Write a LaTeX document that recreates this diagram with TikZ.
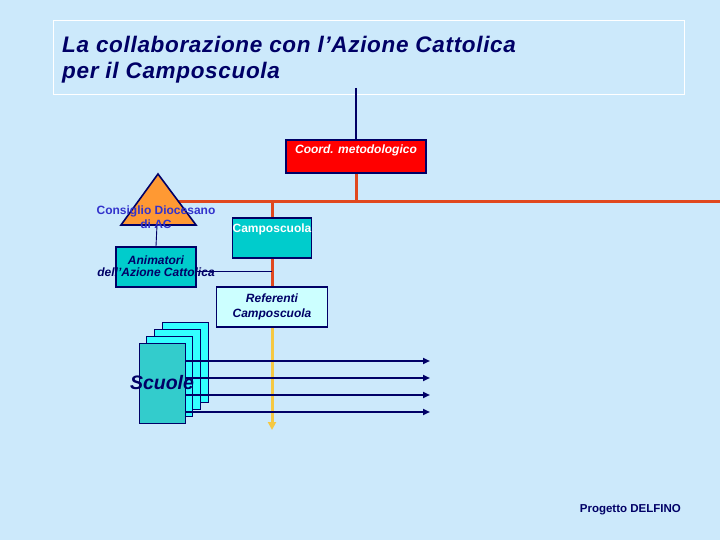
\documentclass[tikz,border=0pt]{standalone}
\usepackage{fontspec}
\setmainfont{Liberation Sans}
\newfontfamily\titlefont[LetterSpace=3]{Liberation Sans}
\usetikzlibrary{calc,arrows.meta}
\definecolor{bgblue}{HTML}{CCE9FB}
\definecolor{navy}{HTML}{000066}
\definecolor{acblue}{HTML}{3333CC}
\definecolor{redline}{HTML}{E0481E}
\definecolor{teal}{HTML}{00CCCC}
\definecolor{paleteal}{HTML}{CCFFFF}
\definecolor{brightcyan}{HTML}{33FFFF}
\definecolor{frontcyan}{HTML}{33CCCC}
\definecolor{gold}{HTML}{F5C842}
\definecolor{tangerine}{HTML}{FF9933}

\tikzset{
  orgbox/.style={draw=navy, line width=1.6pt, inner sep=0pt},
  boxtext/.style={font=\fontsize{12}{13}\selectfont\bfseries\itshape, align=center, inner sep=0pt},
  redlink/.style={draw=redline, line width=3pt},
  thinlink/.style={draw=navy, line width=0.9pt},
  schoolbox/.style={draw=navy, line width=1pt, inner sep=0pt, minimum width=46pt, minimum height=80pt, anchor=north west},
  schoolarrow/.style={draw=navy, line width=2pt, -{Triangle[length=7pt,width=6pt]}}
}

\begin{document}
\begin{tikzpicture}[x=1pt,y=-1pt]
		%%%%% START %%%%%
		\fill[bgblue] (0,0) rectangle (720,540);
		\useasboundingbox (0,0) rectangle (720,540);

		% title
		\draw[white, line width=0.8pt] (53,20) rectangle (684,94);
		\node[anchor=north west, text=navy, align=left, inner sep=0pt,
		      font=\titlefont\fontsize{22.5}{26.5}\selectfont\bfseries\itshape] (title) at (62,35.5)
		      {La collaborazione con l’Azione Cattolica\\per il Camposcuola};

		% coordination
		\coordinate (top) at (356,88);
		\node[orgbox, fill=red, minimum width=140pt, minimum height=33pt] (coord) at (356,156.5) {};
		\node[boxtext, text=white] (coordtxt) at ($(coord.north)+(0,11)$) {Coord. metodologico};
		\draw[navy, line width=2.5pt] (top) -- (coord.north);

		% red tree
		\coordinate (split) at (coord.south |- 0,202);
		\coordinate (rightend) at (720,202);
		\coordinate (leftend) at (170,202);
		\draw[redlink] (coord.south) -- (split);
		\draw[redlink] (leftend) -- (rightend);

		% consiglio diocesano
		\coordinate (apex) at (158,174);
		\coordinate (baseL) at (121,225);
		\coordinate (baseR) at (196,225);
		\draw[navy, line width=1.6pt, fill=tangerine, line join=miter] (apex) -- (baseR) -- (baseL) -- cycle;
		\node[boxtext, text=acblue, font=\fontsize{12}{14}\selectfont\bfseries] (consiglio) at (156,217)
		      {Consiglio Diocesano\\di AC};

		% camposcuola
		\node[orgbox, fill=teal, minimum width=79pt, minimum height=40pt] (campo) at (272,238) {};
		\node[boxtext, text=white, font=\fontsize{12}{13}\selectfont\bfseries] (campotxt) at ($(campo.north)+(0,12.5)$) {Camposcuola};
		\draw[redlink] (campo.north |- split) -- (campo.north);

		% animatori
		\node[orgbox, fill=teal, minimum width=80pt, minimum height=40pt] (anim) at (156,267) {};
		\draw[thinlink] (157,225) -- (anim.north);

		% referenti
		\node[orgbox, fill=paleteal, minimum width=111pt, minimum height=40pt] (ref) at (272,307) {};
		\node[boxtext, text=navy, font=\fontsize{12}{15}\selectfont\bfseries\itshape] (reftxt) at (ref.center)
		      {Referenti\\Camposcuola};
		\draw[redlink] (campo.south) -- (ref.north);
		\coordinate (join) at (ref.north |- 0,271);
		\draw[thinlink] (anim.east |- join) -- (join);
		\node[boxtext, text=navy, font=\fontsize{12}{12.5}\selectfont\bfseries\itshape] (animtxt) at (156,266)
		      {Animatori\\dell’Azione Cattolica};

		% scuole
		\node[schoolbox, fill=brightcyan] (s1) at (162,322) {};
		\node[schoolbox, fill=brightcyan] (s2) at (154,329) {};
		\node[schoolbox, fill=brightcyan] (s3) at (146,336) {};
		\node[schoolbox, fill=frontcyan] (s4) at (139,343) {};

		\coordinate (down) at (272,430);
		\draw[gold, line width=3pt, -{Triangle[length=8pt,width=8pt]}] (ref.south) -- (down);

		\foreach \yy/\nm in {361/a1,378/a2,395/a3,412/a4}{
			\coordinate (\nm) at (430,\yy);
			\draw[schoolarrow] (s4.east |- \nm) -- (\nm);
		}
		\node[text=navy, inner sep=0pt, font=\fontsize{19.5}{20}\selectfont\bfseries\itshape] (scuole) at (162,383) {Scuole};

		% footer
		\node[anchor=east, text=navy, inner sep=0pt, font=\fontsize{11.5}{13}\selectfont\bfseries] (delfino) at (681,510) {Progetto DELFINO};
		%%%%% END %%%%%
	\end{tikzpicture}
\end{document}
